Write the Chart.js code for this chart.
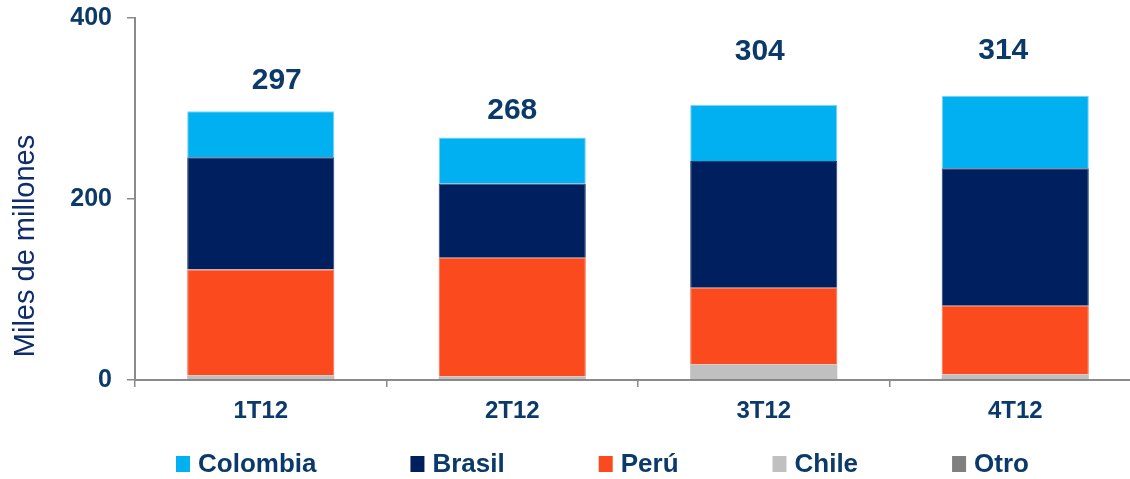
<!DOCTYPE html>
<html>
<head>
<meta charset="utf-8">
<script src="https://cdn.jsdelivr.net/npm/chart.js@4.4.1/dist/chart.umd.min.js"></script>
<style>
html,body{margin:0;padding:0;background:#fff;overflow:hidden;}
#wrap{width:1150px;height:479px;position:relative;}
</style>
</head>
<body>
<div id="wrap"><canvas id="c"></canvas></div>
<script>
const categories = ['1T12', '2T12', '3T12', '4T12'];
const colombia = [51, 51, 62, 80];
const brasil   = [124, 82, 140, 152];
const peru     = [117, 131, 85, 76];
const chile    = [4, 3, 16, 5];
const otro     = [1, 1, 1, 1];
const yTicks   = [0, 200, 400];

const FONT = "'Liberation Sans', Arial, sans-serif";
const TXT = '#0B3A6A';

const totalsPlugin = {
  id: 'totals',
  afterDatasetsDraw(chart, args, opts) {
    const ctx = chart.ctx;
    const y = chart.scales.y;
    const topMeta = chart.getDatasetMeta(chart.data.datasets.length - 1);
    ctx.save();
    ctx.font = 'bold 30px ' + FONT;
    ctx.fillStyle = TXT;
    ctx.textAlign = 'center';
    ctx.textBaseline = 'middle';
    chart.data.labels.forEach((l, i) => {
      let total = 0;
      chart.data.datasets.forEach(d => total += d.data[i]);
      const x = topMeta.data[i].x + opts.shiftX[i];
      const py = y.getPixelForValue(total) - opts.liftY[i];
      ctx.fillText(String(total), x, py);
    });
    ctx.restore();
  }
};

const legendPlugin = {
  id: 'customLegend',
  afterDraw(chart, args, opts) {
    const ctx = chart.ctx;
    ctx.save();
    ctx.font = 'bold 26px ' + FONT;
    ctx.textBaseline = 'middle';
    ctx.textAlign = 'left';
    let x = opts.startX;
    const cy = opts.centerY;
    const ds = chart.data.datasets.slice().reverse();
    ds.forEach(d => {
      ctx.fillStyle = d.backgroundColor;
      ctx.fillRect(x, cy - 8, 14, 16);
      ctx.fillStyle = TXT;
      ctx.fillText(d.label, x + 22, cy + 1);
      x += 22 + ctx.measureText(d.label).width + opts.gap;
    });
    ctx.restore();
  }
};

const yTitlePlugin = {
  id: 'yTitle',
  afterDraw(chart, args, opts) {
    const ctx = chart.ctx;
    ctx.save();
    ctx.translate(opts.x, opts.y);
    ctx.rotate(-Math.PI / 2);
    ctx.font = '29px ' + FONT;
    ctx.fillStyle = '#0F2D6B';
    ctx.textAlign = 'center';
    ctx.textBaseline = 'middle';
    ctx.fillText(opts.text, 0, 0);
    ctx.restore();
  }
};

new Chart(document.getElementById('c'), {
  type: 'bar',
  data: {
    labels: categories,
    datasets: [
      { label: 'Otro', data: otro, backgroundColor: '#808080', borderColor: '#9a9a9a', borderWidth: 0 },
      { label: 'Chile', data: chile, backgroundColor: '#C0C0C0', borderColor: '#d0d0d0', borderWidth: 0 },
      { label: 'Perú', data: peru, backgroundColor: '#FA4A1E', borderColor: '#fb6a45', borderWidth: 1 },
      { label: 'Brasil', data: brasil, backgroundColor: '#001F5E', borderColor: '#23406f', borderWidth: 1 },
      { label: 'Colombia', data: colombia, backgroundColor: '#00B0F0', borderColor: '#7fd4f5', borderWidth: 1 }
    ]
  },
  options: {
    responsive: true,
    maintainAspectRatio: false,
    animation: false,
    layout: { padding: { top: 18, right: 9, left: 0, bottom: 0 } },
    datasets: { bar: { barPercentage: 1, categoryPercentage: 0.585 } },
    plugins: {
      legend: { display: false },
      tooltip: { enabled: false },
      totals: { shiftX: [16, 0, -4, -12], liftY: [30, 27, 53, 45] },
      customLegend: { startX: 176, centerY: 464, gap: 94 },
      yTitle: { x: 26, y: 246, text: 'Miles de millones' }
    },
    scales: {
      x: {
        stacked: true,
        grid: { drawOnChartArea: false, drawTicks: true, tickLength: 7, color: '#8a8a8a', lineWidth: 1.5, offset: true },
        border: { color: '#8a8a8a', width: 2 },
        ticks: { font: { family: FONT, size: 24, weight: 'bold' }, color: TXT, padding: 10 },
        afterFit(s) { s.height = 99; s.paddingLeft = 0; s.paddingRight = 0; }
      },
      y: {
        stacked: true,
        min: 0,
        max: 400,
        afterBuildTicks(s) { s.ticks = yTicks.map(v => ({ value: v })); },
        grid: { drawOnChartArea: false, drawTicks: true, tickLength: 8, color: '#8a8a8a', lineWidth: 1.5 },
        border: { color: '#8a8a8a', width: 2 },
        ticks: { font: { family: FONT, size: 25, weight: 'bold' }, color: TXT, padding: 15 },
        afterFit(s) { s.width = 135; s.paddingTop = 0; s.paddingBottom = 0; }
      }
    }
  },
  plugins: [totalsPlugin, legendPlugin, yTitlePlugin]
});
</script>
</body>
</html>
